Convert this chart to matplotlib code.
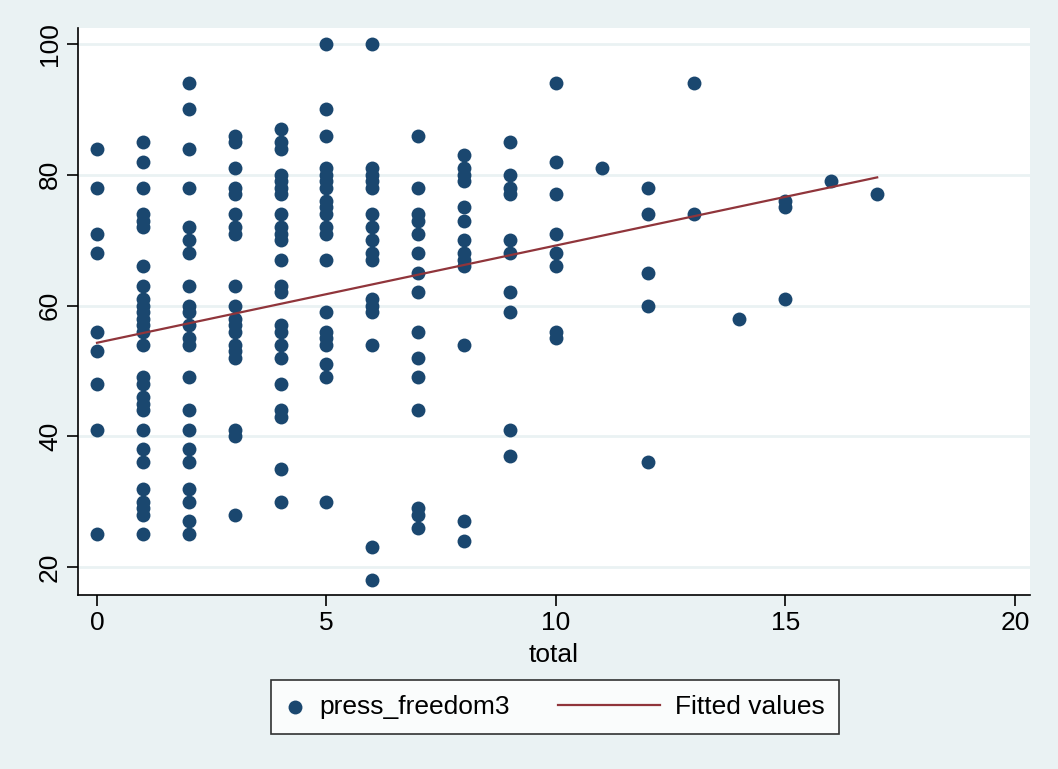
import numpy as np
import matplotlib.pyplot as plt
from matplotlib.legend_handler import HandlerPathCollection

plt.rcParams['font.family'] = ['Liberation Sans', 'DejaVu Sans']

# press_freedom3 values grouped by total
total_vals = [0, 1, 2, 3, 4, 5, 6, 7, 8, 9, 10, 11, 12, 13, 14, 15, 16, 17]
pf_by_total = [
    [84, 78, 71, 68, 56, 53, 48, 41, 25],
    [85, 82, 78, 74, 73, 72, 66, 63, 61, 60, 59, 58, 57, 56, 54, 49, 48, 46, 45, 44, 41, 38, 36, 32, 30, 29, 28, 25],
    [94, 90, 84, 78, 72, 70, 68, 63, 60, 59, 57, 55, 54, 49, 44, 41, 38, 36, 32, 30, 27, 25],
    [86, 85, 81, 78, 77, 74, 72, 71, 63, 60, 58, 57, 56, 54, 53, 52, 41, 40, 28],
    [87, 85, 84, 80, 79, 78, 77, 74, 72, 71, 70, 67, 63, 62, 57, 56, 54, 52, 48, 44, 43, 35, 30],
    [100, 90, 86, 81, 80, 79, 78, 76, 75, 74, 72, 71, 67, 59, 56, 55, 54, 51, 49, 30],
    [100, 81, 80, 79, 78, 74, 72, 70, 68, 67, 61, 60, 59, 54, 23, 18],
    [86, 78, 74, 73, 71, 68, 65, 62, 56, 52, 49, 44, 29, 28, 26],
    [83, 81, 80, 79, 75, 73, 70, 68, 67, 66, 54, 27, 24],
    [85, 80, 78, 77, 70, 68, 62, 59, 41, 37],
    [94, 82, 77, 71, 68, 66, 56, 55],
    [81],
    [78, 74, 65, 60, 36],
    [94, 74],
    [58],
    [76, 75, 61],
    [79],
    [77],
]

# fitted values (many points overlap so refitting is off)
fit_total = [0, 17]
fit_values = [54.3, 79.6]

x = np.concatenate([[t] * len(v) for t, v in zip(total_vals, pf_by_total)]).astype(float)
y = np.concatenate(pf_by_total).astype(float)


class NarrowScatterHandler(HandlerPathCollection):
    # stata puts the marker key in a short slot
    def legend_artist(self, legend, orig_handle, fontsize, handlebox):
        handlebox.width = 0.75 * fontsize
        return super().legend_artist(legend, orig_handle, fontsize, handlebox)


bg = '#EAF2F3'
fs = 19
fig = plt.figure(figsize=(10.58, 7.69), dpi=100, facecolor=bg)
ax = fig.add_axes([78 / 1058, 1 - 595 / 769, (1030 - 78) / 1058, (595 - 28) / 769])
ax.set_facecolor('white')

sc = ax.scatter(x, y, s=100, color='#1A476F', linewidths=0, zorder=3, label='press_freedom3')
ax.plot(fit_total, fit_values, color='#90353B', lw=1.6, zorder=4, label='Fitted values')

ax.set_xlim(-0.414, 20.33)
ax.set_ylim(15.72, 102.45)
ax.set_xticks([0, 5, 10, 15, 20])
ax.set_yticks([20, 40, 60, 80, 100])
ax.yaxis.grid(True, color=bg, lw=2, zorder=0)
ax.set_axisbelow(True)
for sp in ['top', 'right']:
    ax.spines[sp].set_visible(False)
for sp in ['left', 'bottom']:
    ax.spines[sp].set_linewidth(1.2)
ax.tick_params(axis='both', labelsize=fs, length=8, width=1.2, direction='out')
plt.setp(ax.get_yticklabels(), rotation=90, va='center')
ax.set_xlabel('total', fontsize=fs, labelpad=6)

leg = fig.legend(loc='center', bbox_to_anchor=(555 / 1058, 1 - 707 / 769), ncol=2,
                 fontsize=fs, frameon=True, fancybox=False, edgecolor='black',
                 borderpad=0.55, columnspacing=1.8, handlelength=3.9, handletextpad=0.55,
                 scatterpoints=1, handler_map={sc: NarrowScatterHandler()})
leg.get_frame().set_linewidth(1.2)

fig.savefig('out.png', dpi=100, facecolor=bg)
